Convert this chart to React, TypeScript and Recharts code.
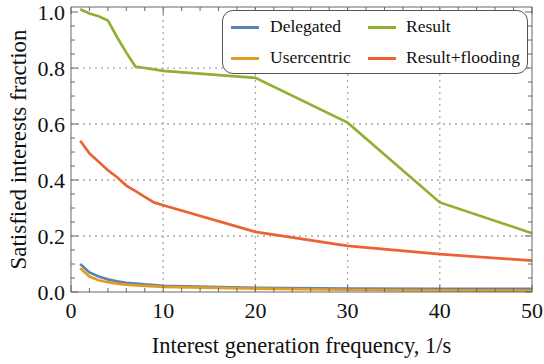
import { LineChart, Line, XAxis, YAxis, ReferenceLine, Legend } from "recharts";

const freq = [1, 2, 3, 4, 5, 6, 7, 8, 9, 10, 20, 30, 40, 50];
const delegated = [0.1, 0.07, 0.055, 0.045, 0.038, 0.033, 0.03, 0.027, 0.025, 0.022, 0.015, 0.012, 0.011, 0.011];
const usercentric = [0.085, 0.055, 0.042, 0.035, 0.03, 0.026, 0.024, 0.022, 0.02, 0.018, 0.012, 0.008, 0.006, 0.005];
const result = [1.01, 0.995, 0.985, 0.97, 0.91, 0.855, 0.805, 0.8, 0.795, 0.79, 0.765, 0.605, 0.32, 0.21];
const resultFlooding = [0.54, 0.495, 0.465, 0.435, 0.41, 0.38, 0.36, 0.34, 0.32, 0.31, 0.215, 0.165, 0.135, 0.112];

const xTicks = [0, 2, 4, 6, 8, 10, 12, 14, 16, 18, 20, 22, 24, 26, 28, 30, 32, 34, 36, 38, 40, 42, 44, 46, 48, 50];
const yTicks = [0, 0.05, 0.1, 0.15, 0.2, 0.25, 0.3, 0.35, 0.4, 0.45, 0.5, 0.55, 0.6, 0.65, 0.7, 0.75, 0.8, 0.85, 0.9, 0.95, 1.0];
const xGrid = [10, 20, 30, 40];
const yGrid = [0.2, 0.4, 0.6, 0.8];

const series = [
  { key: "delegated", name: "Delegated", color: "#5E81B5" },
  { key: "usercentric", name: "Usercentric", color: "#E19C24" },
  { key: "result", name: "Result", color: "#8FB032" },
  { key: "resultFlooding", name: "Result+flooding", color: "#EB6235" },
];

const data = freq.map((f, i) => ({
  f,
  delegated: delegated[i],
  usercentric: usercentric[i],
  result: result[i],
  resultFlooding: resultFlooding[i],
}));

const FONT = "'Liberation Serif', 'Times New Roman', serif";
const FRAME = "#666";

const isMajorX = (v: number) => v % 10 === 0;
const isMajorY = (v: number) => Math.abs(v * 5 - Math.round(v * 5)) < 1e-6;

function BottomTick({ x, y, payload }: any) {
  const v = payload.value;
  const len = isMajorX(v) ? 7 : 4;
  return (
    <g>
      <line x1={x} y1={y} x2={x} y2={y - len} stroke={FRAME} />
      {isMajorX(v) && (
        <text x={x} y={y + 26} textAnchor="middle" fontSize={22} fontFamily={FONT} fill="#111">
          {v}
        </text>
      )}
    </g>
  );
}

function TopTick({ x, y, payload }: any) {
  const len = isMajorX(payload.value) ? 7 : 4;
  return <line x1={x} y1={y} x2={x} y2={y + len} stroke={FRAME} />;
}

function LeftTick({ x, y, payload }: any) {
  const v = payload.value;
  const len = isMajorY(v) ? 7 : 4;
  return (
    <g>
      <line x1={x} y1={y} x2={x + len} y2={y} stroke={FRAME} />
      {isMajorY(v) && (
        <text x={x - 6} y={y + 7.5} textAnchor="end" fontSize={22} fontFamily={FONT} fill="#111">
          {v.toFixed(1)}
        </text>
      )}
    </g>
  );
}

function RightTick({ x, y, payload }: any) {
  const len = isMajorY(payload.value) ? 7 : 4;
  return <line x1={x} y1={y} x2={x - len} y2={y} stroke={FRAME} />;
}

function LegendBox() {
  const cols = [
    { swatch: 8, text: 47 },
    { swatch: 145, text: 183 },
  ];
  const rows = [16, 47];
  return (
    <div
      style={{
        position: "relative",
        width: 306,
        height: 64,
        boxSizing: "border-box",
        border: "1px solid #555",
        borderRadius: 11,
        background: "#fff",
        fontFamily: FONT,
        fontSize: 17.5,
        color: "#111",
      }}
    >
      {series.map((s, i) => {
        const col = cols[Math.floor(i / 2)];
        const top = rows[i % 2];
        return (
          <div key={s.key}>
            <div
              style={{
                position: "absolute",
                left: col.swatch,
                top: top - 1.5,
                width: 28,
                height: 3,
                background: s.color,
              }}
            />
            <div
              style={{
                position: "absolute",
                left: col.text,
                top: top - 12,
                lineHeight: "22px",
                whiteSpace: "nowrap",
              }}
            >
              {s.name}
            </div>
          </div>
        );
      })}
    </div>
  );
}

export default function App() {
  return (
    <div style={{ position: "absolute", left: 0, top: 0, background: "#fff" }}>
      <LineChart width={544} height={364} data={data} margin={{ top: 0, right: 0, bottom: 0, left: 0 }}>
        <XAxis
          dataKey="f"
          type="number"
          domain={[0, 50]}
          ticks={xTicks}
          interval={0}
          tickSize={0}
          tickMargin={0}
          tickLine={false}
          tick={<BottomTick />}
          height={72}
          stroke={FRAME}
          label={{ value: "Interest generation frequency, 1/s", position: "insideBottom", offset: 11, fontSize: 22.5, fontFamily: FONT, fill: "#111" }}
        />
        <XAxis
          xAxisId="top"
          dataKey="f"
          type="number"
          orientation="top"
          domain={[0, 50]}
          ticks={xTicks}
          interval={0}
          tickSize={0}
          tickMargin={0}
          tickLine={false}
          tick={<TopTick />}
          height={7}
          stroke={FRAME}
        />
        <YAxis
          type="number"
          domain={[0, 1.018]}
          ticks={yTicks}
          interval={0}
          tickSize={0}
          tickMargin={0}
          tickLine={false}
          tick={<LeftTick />}
          width={71}
          stroke={FRAME}
          allowDataOverflow
          label={{ value: "Satisfied interests fraction", angle: -90, position: "insideLeft", offset: 18, fontSize: 23, fontFamily: FONT, fill: "#111", style: { textAnchor: "middle" } }}
        />
        <YAxis
          yAxisId="right"
          type="number"
          orientation="right"
          domain={[0, 1.018]}
          ticks={yTicks}
          interval={0}
          tickSize={0}
          tickMargin={0}
          tickLine={false}
          tick={<RightTick />}
          width={12}
          stroke={FRAME}
          allowDataOverflow
        />
        {xGrid.map((v) => (
          <ReferenceLine key={"x" + v} x={v} stroke="#aaa" strokeDasharray="2 4" strokeWidth={1.3} />
        ))}
        {yGrid.map((v) => (
          <ReferenceLine key={"y" + v} y={v} stroke="#aaa" strokeDasharray="2 4" strokeWidth={1.3} />
        ))}
        {series.map((s) => (
          <Line
            key={s.key}
            dataKey={s.key}
            name={s.name}
            type="linear"
            stroke={s.color}
            strokeWidth={2.7}
            dot={false}
            isAnimationActive={false}
          />
        ))}
        <Legend
          layout="horizontal"
          verticalAlign="middle"
          align="center"
          wrapperStyle={{ left: 222, top: 10, width: 306, height: 64 }}
          content={() => <LegendBox />}
        />
      </LineChart>
    </div>
  );
}
